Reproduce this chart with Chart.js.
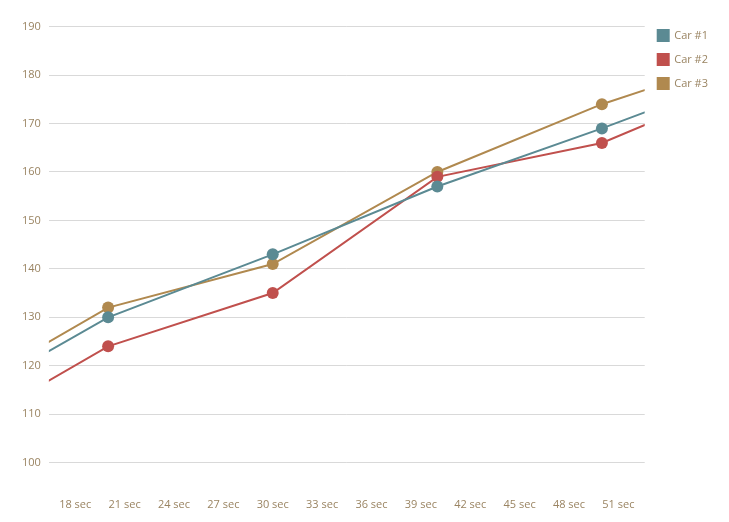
<!DOCTYPE html>
<html>
<head>
<meta charset="utf-8">
<script src="https://cdn.jsdelivr.net/npm/chart.js@4/dist/chart.umd.min.js"></script>
<style>
  html, body { margin: 0; padding: 0; background: #fff; }
  #wrap { width: 729px; height: 522px; }
</style>
</head>
<body>
<div id="wrap"><canvas id="chart"></canvas></div>
<script>
// Tempos (s) e posições por carro; pontos em 10 e 60 s ficam fora da área visível
const seconds = [10, 20, 30, 40, 50, 60];
const car1 = [110.6, 130, 143, 157, 169, 181.7];
const car2 = [104.3, 124, 135, 159, 166, 180.2];
const car3 = [112.3, 132, 141, 160, 174, 185.2];
const xTicks = [18, 21, 24, 27, 30, 33, 36, 39, 42, 45, 48, 51];
const yTicks = [100, 110, 120, 130, 140, 150, 160, 170, 180, 190];

const labelColor = '#9a8462';
const serie = (label, vals, color) => ({
    label,
    data: seconds.map((s, i) => ({ x: s, y: vals[i] })),
    borderColor: color, backgroundColor: color,
    borderWidth: 2, pointRadius: 6, pointHoverRadius: 6,
    pointBorderWidth: 0, tension: 0
});

new Chart(document.getElementById('chart'), {
    type: 'line',
    data: {
        datasets: [
            serie('Car #1', car1, '#5b8a93'),
            serie('Car #2', car2, '#c0504d'),
            serie('Car #3', car3, '#b0894f')
        ]
    },
    options: {
        responsive: true, maintainAspectRatio: false, animation: false,
        layout: { padding: { top: 17, right: 11, left: 14, bottom: 8 } },
        plugins: {
            legend: {
                position: 'right', align: 'start',
                labels: { boxWidth: 11, boxHeight: 11, color: labelColor, padding: 13,
                          font: { family: 'Open Sans', size: 11 } }
            },
            tooltip: { enabled: false }
        },
        scales: {
            x: {
                type: 'linear', min: 16.4, max: 52.6,
                afterBuildTicks: ax => { ax.ticks = xTicks.map(v => ({ value: v })); },
                ticks: { color: labelColor, font: { family: 'Open Sans', size: 11 },
                         callback: v => v + ' sec', maxRotation: 0, padding: 3 },
                grid: { display: false }, border: { display: false }
            },
            y: {
                min: 95, max: 192,
                afterBuildTicks: ax => { ax.ticks = yTicks.map(v => ({ value: v })); },
                ticks: { color: labelColor, font: { family: 'Open Sans', size: 11 }, padding: 8 },
                grid: { color: '#d9d9d9', drawTicks: false }, border: { display: false }
            }
        }
    }
});
</script>
</body>
</html>
